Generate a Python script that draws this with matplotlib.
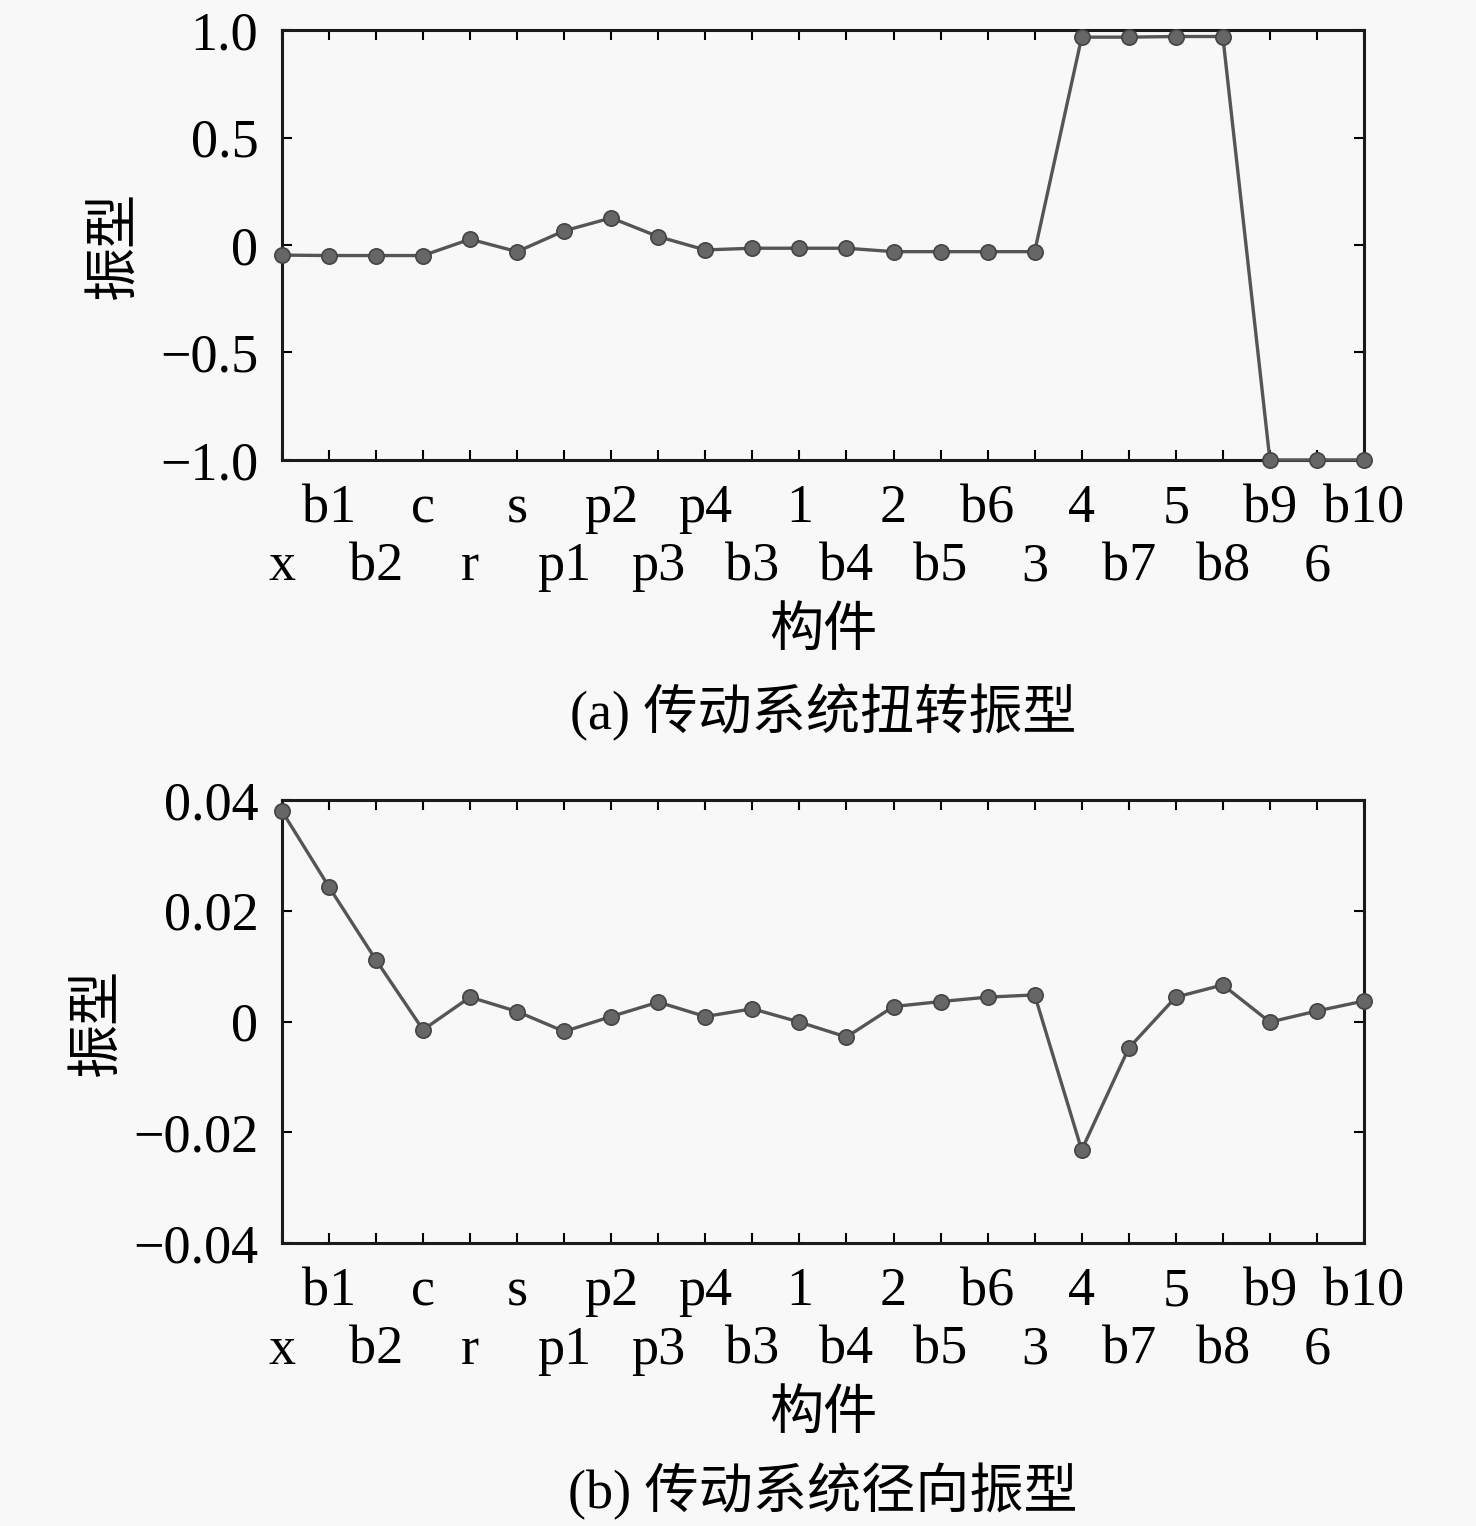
import numpy as np
import matplotlib
matplotlib.use('Agg')
import matplotlib.pyplot as plt

plt.rcParams['font.family'] = ['Liberation Serif', 'Noto Sans CJK SC']
plt.rcParams['axes.unicode_minus'] = True

########### data ###########
parts = ['x', 'b1', 'b2', 'c', 'r', 's', 'p1', 'p2', 'p3', 'p4', 'b3', '1',
         'b4', '2', 'b5', 'b6', '3', '4', 'b7', '5', 'b8', 'b9', '6', 'b10']

# (a) torsional mode shape
torsion = [-0.047, -0.049, -0.049, -0.049, 0.027, -0.031, 0.066, 0.126,
           0.039, -0.023, -0.015, -0.015, -0.015, -0.031, -0.031, -0.031,
           -0.031, 0.967, 0.967, 0.970, 0.970, -1.0, -1.0, -1.0]

# (b) radial mode shape
radial = [0.0380, 0.0243, 0.0111, -0.0015, 0.0044, 0.0018, -0.0018, 0.0009,
          0.0035, 0.0009, 0.0023, -0.0001, -0.0028, 0.0027, 0.0036, 0.0044,
          0.0048, -0.0232, -0.0048, 0.0044, 0.0066, -0.0001, 0.0019, 0.0037]

ylim_a = (-1.0, 1.0)
yticks_a = [-1.0, -0.5, 0, 0.5, 1.0]
ylabels_a = ['\u22121.0', '\u22120.5', '0', '0.5', '1.0']

ylim_b = (-0.04, 0.04)
yticks_b = [-0.04, -0.02, 0, 0.02, 0.04]
ylabels_b = ['\u22120.04', '\u22120.02', '0', '0.02', '0.04']

bg = '#f8f8f8'
fs = 39

fig = plt.figure(figsize=(14.76, 15.26), dpi=100, facecolor=bg)
ax1 = fig.add_axes([0.191, 0.6986, 0.7331, 0.2817])
ax2 = fig.add_axes([0.191, 0.1854, 0.7331, 0.2904])


def draw(ax, vals, ylim, yticks, ylabels, caption, cap_y, ypad):
    xs = np.arange(len(parts))
    ax.set_facecolor(bg)
    ax.plot(xs, vals, '-o', color='#555555', lw=2.4, ms=11,
            mfc='#666666', mec='#444444', mew=1.2, clip_on=False, zorder=3)
    ax.set_xlim(0, len(parts) - 1)
    ax.set_ylim(*ylim)

    # two rows of tick labels: odd parts on the first row (major),
    # even parts on the second row (minor)
    ax.set_xticks(xs[1::2])
    ax.set_xticklabels(parts[1::2], fontsize=fs)
    ax.set_xticks(xs[0::2], minor=True)
    ax.set_xticklabels(parts[0::2], minor=True, fontsize=fs)
    ax.set_yticks(yticks)
    ax.set_yticklabels(ylabels, fontsize=fs)

    ax.tick_params(which='both', direction='in', top=True, right=True,
                   length=7, width=1.5, colors='black')
    ax.tick_params(axis='x', which='major', pad=17)
    ax.tick_params(axis='x', which='minor', pad=59)
    ax.tick_params(axis='y', pad=17)
    for s in ax.spines.values():
        s.set_linewidth(2.2)
        s.set_color('#1a1a1a')

    ax.set_xlabel('构件', fontsize=fs, labelpad=11)
    ax.set_ylabel('振型', fontsize=fs, labelpad=ypad)
    fig.text(0.5576, cap_y, caption, fontsize=fs, ha='center', va='center')


draw(ax1, torsion, ylim_a, yticks_a, ylabels_a, '(a) 传动系统扭转振型', 0.5334, 14)
draw(ax2, radial, ylim_b, yticks_b, ylabels_b, '(b) 传动系统径向振型', 0.0223, 7)

fig.savefig('out.png', dpi=100, facecolor=bg)
plt.close()
